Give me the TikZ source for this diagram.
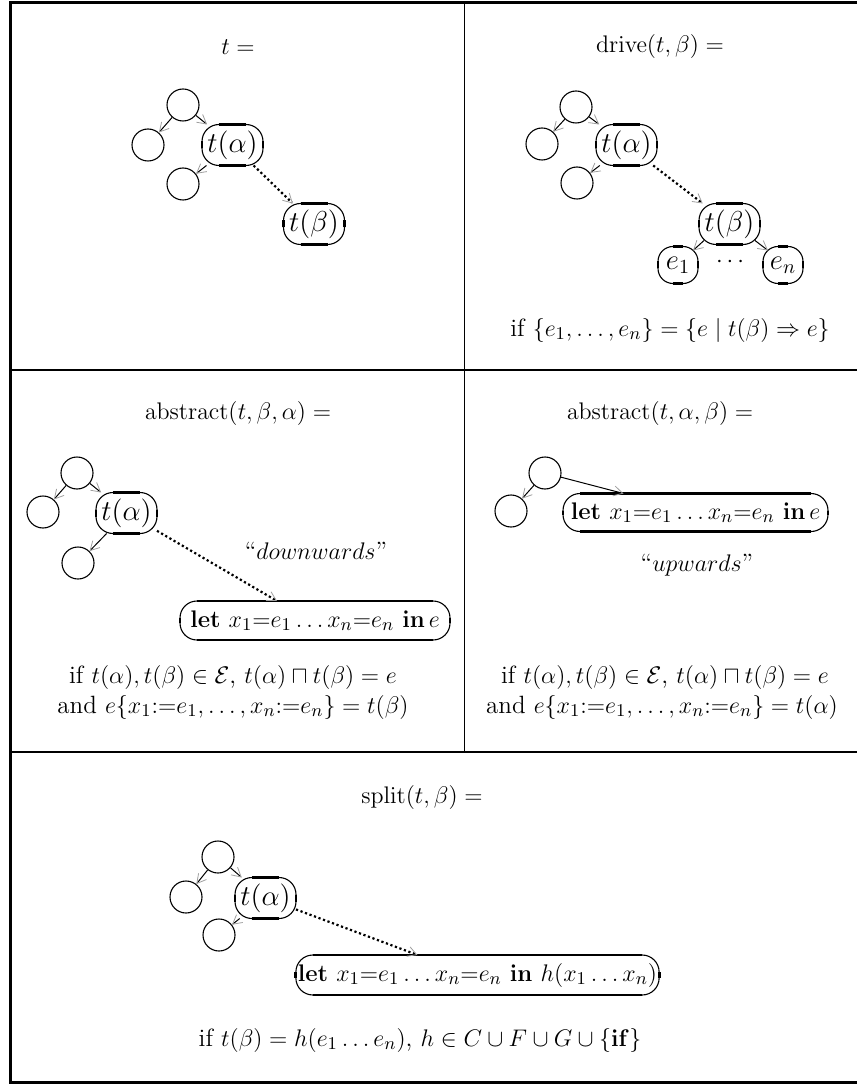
\documentclass[tikz,border=0pt]{standalone}
\usetikzlibrary{arrows.meta,calc}

% thick straight parts of a term box
\newcommand\ports[2][8.5pt]{%
  \draw[port] ([xshift=#1]#2.north west) -- ([xshift=-#1]#2.north east)
    ([xshift=#1]#2.south west) -- ([xshift=-#1]#2.south east)
    ([yshift=-#1]#2.north west) -- ([yshift=#1]#2.south west)
    ([yshift=-#1]#2.north east) -- ([yshift=#1]#2.south east);}

\begin{document}
\begin{tikzpicture}[
	x=0.5pt, y=-0.5pt,
	every node/.style={font=\fontsize{12.5}{15}\selectfont},
	circ/.style={circle, draw, line width=0.55pt, minimum size=16pt, inner sep=0pt},
	term/.style={draw, line width=0.55pt, rounded corners=8.5pt, outer sep=0pt,
		minimum height=20.5pt, minimum width=30.5pt, inner sep=1pt},
	big/.style={font=\fontsize{14.5}{16}\selectfont},
	small/.style={term, big, rounded corners=7.5pt, minimum height=18.5pt, minimum width=20pt},
	port/.style={line width=1.4pt},
	edge/.style={line width=0.5pt, -{Straight Barb[length=4.5pt, width=5pt, color=gray!75, line width=0.4pt]}},
	link/.style={edge, line width=1.1pt, dash pattern=on 1.1pt off 1.3pt},
	frame/.style={line width=1.5pt},
	rule/.style={line width=0.85pt}
]
\useasboundingbox (0,0) rectangle (856,1085);

% boxes of the table
\draw[frame] (10.5,2.5) rectangle (866,1082);
\draw[line width=1.2pt] (10.5,370) -- (866,370);
\draw[rule] (464.5,2.5) -- (464.5,752);
\draw[rule] (10.5,752) -- (866,752);

% t =
\node (h1) at (238,47) {$t =$};
\node[circ] (a1) at (183,105) {};
\node[circ] (b1) at (148,145) {};
\node[term, big] (ta1) at (232.5,145) {$t(\alpha)$};
\node[circ] (c1) at (183,184) {};
\node[term, big] (tb1) at (314,224) {$t(\beta)$};
\ports{ta1} \ports{tb1}
\draw[edge] (a1) -- (b1);
\draw[edge] (a1) -- (ta1);
\draw[edge] (ta1) -- (c1);
\draw[link] (ta1) -- (tb1);

% drive
\node (h2) at (660,47) {$\mathrm{drive}(t,\beta) =$};
\node[circ] (a2) at (576,107) {};
\node[circ] (b2) at (542,144) {};
\node[term, big] (ta2) at (626.5,145) {$t(\alpha)$};
\node[circ] (c2) at (577,183) {};
\node[term, big] (tb2) at (729.5,224) {$t(\beta)$};
\node[small] (e1) at (678,265) {$e_1$};
\node (dots) at (730,262) {$\cdots$};
\node[small] (en) at (783,265) {$e_n$};
\ports{ta2} \ports{tb2} \ports[7.5pt]{e1} \ports[7.5pt]{en}
\draw[edge] (a2) -- (b2);
\draw[edge] (a2) -- (ta2);
\draw[edge] (ta2) -- (c2);
\draw[link] (ta2) -- (tb2);
\draw[edge] ([shift={(2.5pt,2pt)}]tb2.south west) -- ([shift={(-2.5pt,-2pt)}]e1.north east);
\draw[edge] ([shift={(-2.5pt,2pt)}]tb2.south east) -- ([shift={(2.5pt,-2pt)}]en.north west);
\node (w2) at (670,330) {if $\{e_1,\ldots,e_n\} = \{e \mid t(\beta)\Rightarrow e\}$};

% abstract downwards
\node (h3) at (238,413) {$\mathrm{abstract}(t,\beta,\alpha) =$};
\node[circ] (a3) at (77,473) {};
\node[circ] (b3) at (43,512) {};
\node[term, big] (ta3) at (126.5,513) {$t(\alpha)$};
\node[circ] (c3) at (78,563) {};
\node[term, minimum width=135pt, minimum height=19.5pt] (let3) at (315,620.5)
	{$\mathbf{let}\ x_1{=}e_1 \ldots x_n{=}e_n\ \mathbf{in}\,e$};
\ports{ta3} \ports{let3}
\draw[edge] (a3) -- (b3);
\draw[edge] (a3) -- (ta3);
\draw[edge] (ta3) -- (c3);
\draw[link] (ta3) -- ([xshift=-19pt]let3.north);
\node (d3) at (316,551) {``$downwards$''};
\node (w3) at (233,677) {if $t(\alpha),t(\beta)\in\mathcal{E}$, $t(\alpha)\sqcap t(\beta) = e$};
\node (v3) at (233,707) {and $e\{x_1{:=}e_1,\ldots,x_n{:=}e_n\} = t(\beta)$};

% abstract upwards
\node (h4) at (660,413) {$\mathrm{abstract}(t,\alpha,\beta) =$};
\node[circ] (a4) at (545,473) {};
\node[circ] (b4) at (511,511) {};
\node[term, minimum width=132.5pt, minimum height=19pt] (let4) at (695.5,512.5)
	{$\mathbf{let}\ x_1{=}e_1 \ldots x_n{=}e_n\ \mathbf{in}\,e$};
\ports{let4}
\draw[edge] (a4) -- (b4);
\draw[edge] (a4) -- ([xshift=-36pt]let4.north);
\node (u4) at (697,565) {``$upwards$''};
\node (w4) at (665,677) {if $t(\alpha),t(\beta)\in\mathcal{E}$, $t(\alpha)\sqcap t(\beta) = e$};
\node (v4) at (662,707) {and $e\{x_1{:=}e_1,\ldots,x_n{:=}e_n\} = t(\alpha)$};

% split
\node (h5) at (422,797) {$\mathrm{split}(t,\beta) =$};
\node[circ] (a5) at (218,857) {};
\node[circ] (b5) at (186,897) {};
\node[term, big] (ta5) at (265.5,898) {$t(\alpha)$};
\node[circ] (c5) at (219,935) {};
\node[term, minimum width=180.5pt, minimum height=20pt] (let5) at (477.5,975)
	{$\mathbf{let}\ x_1{=}e_1 \ldots x_n{=}e_n\ \mathbf{in}\ h(x_1\ldots x_n)$};
\ports{ta5} \ports{let5}
\draw[edge] (a5) -- (b5);
\draw[edge] (a5) -- (ta5);
\draw[edge] (ta5) -- (c5);
\draw[link] (ta5) -- ([xshift=-30pt]let5.north);
\node (w5) at (420,1040) {if $t(\beta) = h(e_1\ldots e_n)$, $h\in C\cup F\cup G\cup\{\mathbf{if}\}$};
\end{tikzpicture}
\end{document}
